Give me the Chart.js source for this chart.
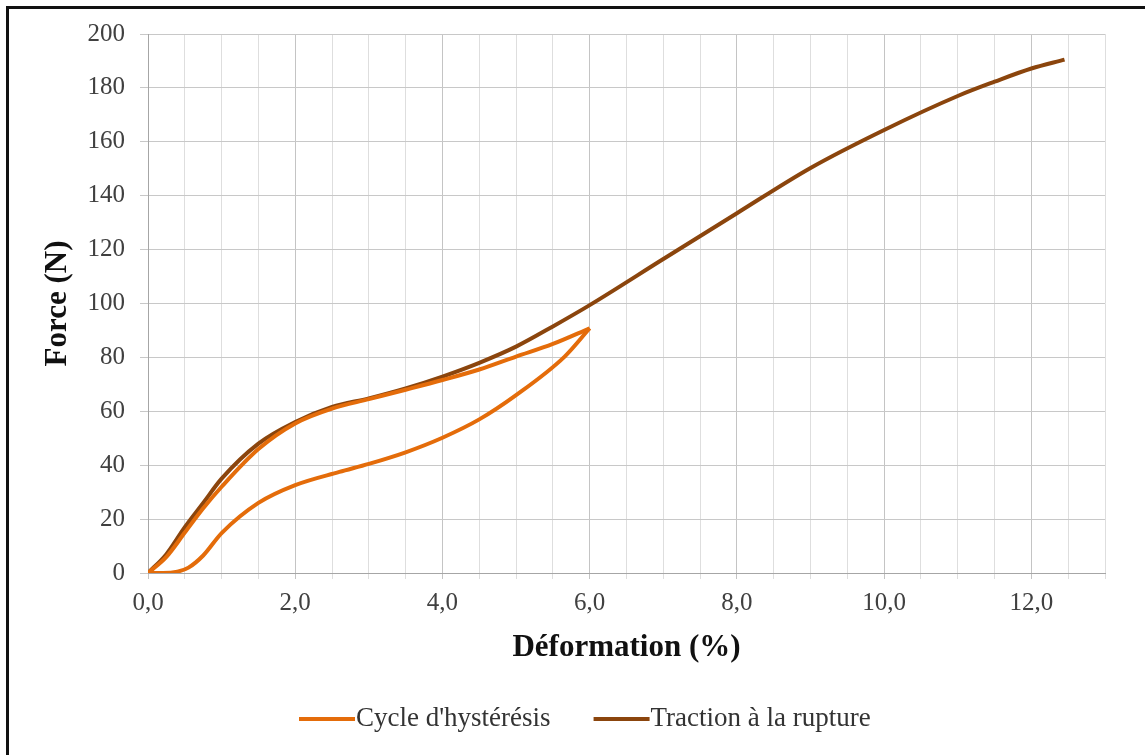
<!DOCTYPE html>
<html>
<head>
<meta charset="utf-8">
<script src="https://cdn.jsdelivr.net/npm/chart.js@4.4.0/dist/chart.umd.min.js"></script>
<style>
  body { margin: 0; background: #fff; }
  canvas { display: block; }
</style>
</head>
<body>
<canvas id="myChart" width="1145" height="755"></canvas>
<script>
// hysteresis cycle, loading branch then unloading branch
var loadStrain = [0, 0.25, 0.5, 0.75, 1.0, 1.5, 2.0, 2.5, 3.0, 3.5, 4.0, 4.5, 5.0, 5.5, 6.0];
var loadForce  = [0, 6, 15, 24, 32, 46, 55.5, 61, 64.5, 68, 71.6, 75.5, 80.3, 85, 90.8];
var unloadStrain = [6.0, 5.66, 5.0, 4.5, 4.0, 3.5, 3.0, 2.6, 2.0, 1.5, 1.0, 0.75, 0.55, 0.4, 0.2, 0];
var unloadForce  = [90.8, 80.3, 66, 57, 50.2, 44.8, 40.5, 37.5, 32.6, 26, 14.8, 6.5, 2, 0.5, 0, 0];

// tensile test up to rupture
var tracStrain = [0, 0.25, 0.5, 0.75, 1.0, 1.5, 2.0, 2.5, 3.0, 3.5, 4.0, 4.5, 5.0, 5.5, 6.0, 7.0, 8.0, 9.0, 10.0, 11.0, 11.5, 12.0, 12.45];
var tracForce  = [0, 7, 17, 26, 35, 48, 56, 61.6, 64.8, 68.5, 72.9, 78, 84, 91.5, 99.4, 116.5, 133.5, 150.3, 164.4, 177, 182.3, 187.2, 190.5];

var seriesNames = ["Cycle d'hystérésis", "Traction à la rupture"];
var seriesColors = ["#E46C0A", "#8B450D"];

function toPoints(xs, ys) {
  return xs.map(function (x, i) { return {x: x, y: ys[i]}; });
}

var serif = "'Liberation Serif', 'Times New Roman', serif";

// black frame on top and left like the scanned figure
var framePlugin = {
  id: 'frame',
  afterDraw: function (chart) {
    var ctx = chart.ctx;
    ctx.save();
    ctx.strokeStyle = '#111';
    ctx.lineWidth = 3;
    ctx.beginPath();
    ctx.moveTo(6, 7.5); ctx.lineTo(1145, 7.5);
    ctx.moveTo(7.5, 6); ctx.lineTo(7.5, 755);
    ctx.stroke();
    ctx.restore();
  }
};

var legendPlugin = {
  id: 'bottomLegend',
  afterDraw: function (chart) {
    var ctx = chart.ctx;
    ctx.save();
    ctx.font = "27px " + serif;
    ctx.textBaseline = 'middle';
    var x = 299, y = 719;
    for (var i = 0; i < seriesNames.length; i++) {
      ctx.strokeStyle = seriesColors[i];
      ctx.lineWidth = 4;
      ctx.beginPath();
      ctx.moveTo(x, y); ctx.lineTo(x + 56, y);
      ctx.stroke();
      ctx.fillStyle = '#333';
      ctx.fillText(seriesNames[i], x + 57, y);
      x = x + 57 + ctx.measureText(seriesNames[i]).width + 43;
    }
    ctx.restore();
  }
};

new Chart("myChart", {
  type: "scatter",
  data: {
    datasets: [{
      label: seriesNames[0],
      data: toPoints(loadStrain, loadForce),
      borderColor: seriesColors[0],
      backgroundColor: seriesColors[0],
      borderWidth: 4,
      showLine: true,
      pointRadius: 0,
      cubicInterpolationMode: 'monotone',
      order: 0
    }, {
      label: seriesNames[0] + " (décharge)",
      data: toPoints(unloadStrain, unloadForce),
      borderColor: seriesColors[0],
      backgroundColor: seriesColors[0],
      borderWidth: 4,
      showLine: true,
      pointRadius: 0,
      cubicInterpolationMode: 'monotone',
      order: 0
    }, {
      label: seriesNames[1],
      data: toPoints(tracStrain, tracForce),
      borderColor: seriesColors[1],
      backgroundColor: seriesColors[1],
      borderWidth: 4,
      showLine: true,
      pointRadius: 0,
      cubicInterpolationMode: 'monotone',
      order: 1
    }]
  },
  options: {
    responsive: false,
    animation: false,
    layout: {padding: {left: 8, right: 40, top: 34, bottom: 75}},
    plugins: {
      legend: {display: false},
      tooltip: {enabled: false}
    },
    scales: {
      x: {
        type: 'linear',
        min: 0,
        max: 13,
        afterFit: function (s) { s.height = 107; },
        ticks: {
          stepSize: 0.5,
          autoSkip: false,
          maxRotation: 0,
          padding: 9,
          color: '#404040',
          font: {family: serif, size: 25},
          callback: function (v) {
            return (Math.abs(v % 2) < 1e-9) ? v.toFixed(1).replace('.', ',') : '';
          }
        },
        grid: {
          color: function (c) {
            return (c.tick && Math.abs(c.tick.value % 2) < 1e-9) ? '#c4c4c4' : '#dedede';
          },
          tickLength: 6
        },
        border: {color: '#a6a6a6'},
        title: {
          display: true,
          text: 'Déformation (%)',
          color: '#111',
          font: {family: serif, size: 31, weight: 'bold'},
          padding: {top: 0, bottom: 13}
        }
      },
      y: {
        min: 0,
        max: 200,
        afterFit: function (s) { s.width = 140; },
        ticks: {
          stepSize: 20,
          padding: 15,
          color: '#404040',
          font: {family: serif, size: 25}
        },
        grid: {color: '#c8c8c8', tickLength: 8},
        border: {color: '#a6a6a6'},
        title: {
          display: true,
          text: 'Force (N)',
          color: '#111',
          font: {family: serif, size: 31, weight: 'bold'},
          padding: {top: 31, bottom: 0}
        }
      }
    }
  },
  plugins: [framePlugin, legendPlugin]
});
</script>
</body>
</html>
